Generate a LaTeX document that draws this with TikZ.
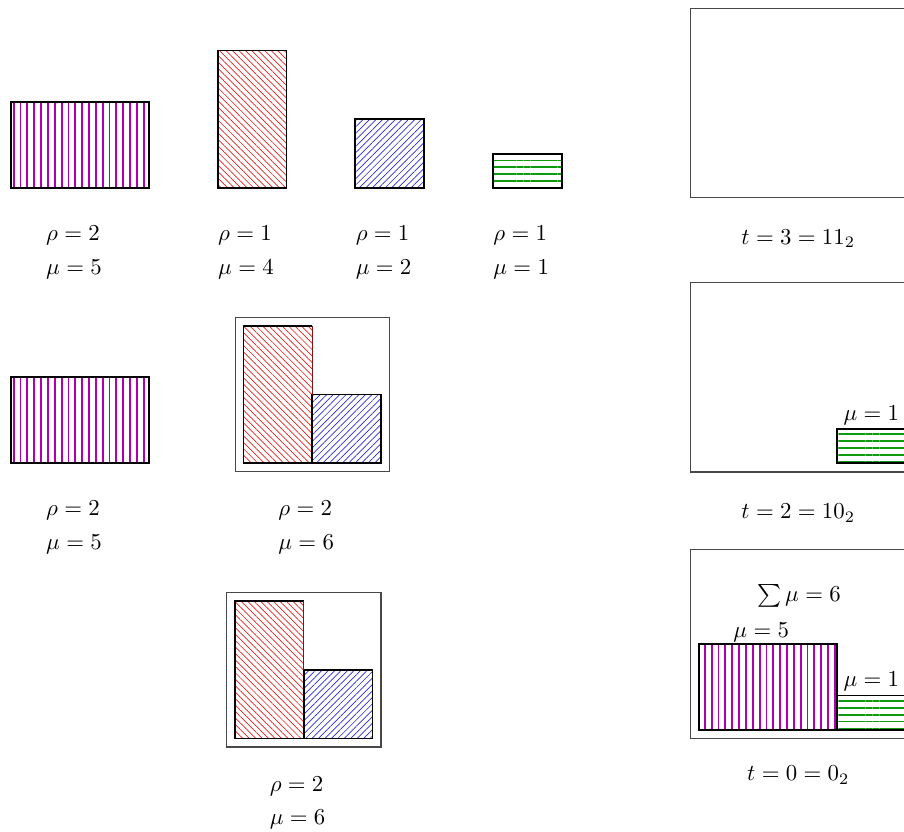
\documentclass[tikz,border=0pt]{standalone}
\usepackage{amsmath,amssymb}
\usepackage{xcolor}
\usepackage{tikz}
\usetikzlibrary{patterns.meta,positioning,fit}
\definecolor{cPur}{HTML}{B000B0}
\definecolor{cRed}{HTML}{E02020}
\definecolor{cBlu}{HTML}{2828D8}
\definecolor{cGrn}{HTML}{109A10}
\definecolor{cFrame}{HTML}{484848}
\newcommand{\bu}{0.53cm}
\tikzset{
  bar/.style={draw=black,thick,anchor=south west,inner sep=0pt,outer sep=0pt},
  wbar/.style={bar,minimum width=4*\bu,minimum height=2.5*\bu,pattern={Lines[angle=90,distance=3pt,line width=0.8pt]},pattern color=cPur},
  tbar/.style={bar,minimum width=2*\bu,minimum height=4*\bu,pattern={Lines[angle=-45,distance=2pt,line width=0.3pt]},pattern color=cRed},
  sqbar/.style={bar,minimum width=2*\bu,minimum height=2*\bu,pattern={Lines[angle=45,distance=2pt,line width=0.3pt]},pattern color=cBlu},
  lbar/.style={bar,minimum width=2*\bu,minimum height=\bu,pattern={Lines[angle=0,distance=3pt,line width=0.8pt]},pattern color=cGrn},
  frame/.style={draw=cFrame,line width=0.5pt,inner sep=0pt,outer sep=0pt},
  lab/.style={anchor=west,inner sep=0pt},
  clab/.style={inner sep=0pt},
}

\begin{document}
\begin{tikzpicture}[x=\bu,y=\bu]
  \useasboundingbox (-0.33,-18.69) rectangle (25.95,5.47);
  % single blocks
  \node[wbar]  (p1) at (0,0)  {};
  \node[tbar]  (r1) at (6,0)  {};
  \node[sqbar] (b1) at (10,0) {};
  \node[lbar]  (g1) at (14,0) {};
  \node[lab] (p1r) at (1,-1.38)  {$\rho=2$};
  \node[lab] (p1m) at (1,-2.36)  {$\mu=5$};
  \node[lab] (r1r) at (6,-1.38)  {$\rho=1$};
  \node[lab] (r1m) at (6,-2.36)  {$\mu=4$};
  \node[lab] (b1r) at (10,-1.38) {$\rho=1$};
  \node[lab] (b1m) at (10,-2.36) {$\mu=2$};
  \node[lab] (g1r) at (14,-1.38) {$\rho=1$};
  \node[lab] (g1m) at (14,-2.36) {$\mu=1$};

  % merged pairs
  \node[wbar] (p2) at (0,-8) {};
  \node[lab] (p2r) at (1,-9.38)  {$\rho=2$};
  \node[lab] (p2m) at (1,-10.36) {$\mu=5$};
  \node[tbar,draw=none] (r2) at (6.75,-8) {};
  \node[sqbar] (b2) at (8.75,-8) {};
  \draw[thick] (r2.north east) -- (r2.north west) -- (r2.south west) -- (r2.south east);
  \draw[cRed!60!black,line width=0.4pt] (r2.north east) -- (b2.north west);
  \node[frame,fit=(r2)(b2),inner sep=0.13cm] (k2) {};
  \node[lab] (k2r) at (7.75,-9.38)  {$\rho=2$};
  \node[lab] (k2m) at (7.75,-10.36) {$\mu=6$};

  \node[tbar,draw=none] (r3) at (6.5,-16) {};
  \node[sqbar] (b3) at (8.5,-16) {};
  \draw[thick] (r3.north east) -- (r3.north west) -- (r3.south west) -- (r3.south east);
  \draw[cRed!60!black,line width=0.4pt] (r3.north east) -- (b3.north west);
  \node[frame,fit=(r3)(b3),inner sep=0.13cm] (k3) {};
  \node[lab] (k3r) at (7.5,-17.38) {$\rho=2$};
  \node[lab] (k3m) at (7.5,-18.36) {$\mu=6$};

  % counter states
  \node[frame,anchor=south west,minimum width=6.25*\bu,minimum height=5.5*\bu] (f1) at (19.75,-0.28) {};
  \node[clab] (t1) at (22.875,-1.47) {$t=3=11_2$};

  \node[frame,anchor=south west,minimum width=6.25*\bu,minimum height=5.5*\bu] (f2) at (19.75,-8.25) {};
  \node[lbar] (g4) at (24,-8) {};
  \node[clab] (g4m) at (25,-6.6) {$\mu=1$};
  \node[clab] (t2) at (22.875,-9.45) {$t=2=10_2$};

  \node[frame,anchor=south west,minimum width=6.25*\bu,minimum height=5.5*\bu] (f3) at (19.75,-16) {};
  \node[wbar] (p5) at (20,-15.75) {};
  \node[lbar] (g5) at (24,-15.75) {};
  \node[clab] (p5m) at (21.8,-12.9)  {$\mu=5$};
  \node[clab] (g5m) at (25,-14.35)   {$\mu=1$};
  \node[clab] (s5)  at (22.9,-11.85) {$\sum\mu=6$};
  \node[clab] (t3) at (22.875,-17.06) {$t=0=0_2$};
\end{tikzpicture}
\end{document}
